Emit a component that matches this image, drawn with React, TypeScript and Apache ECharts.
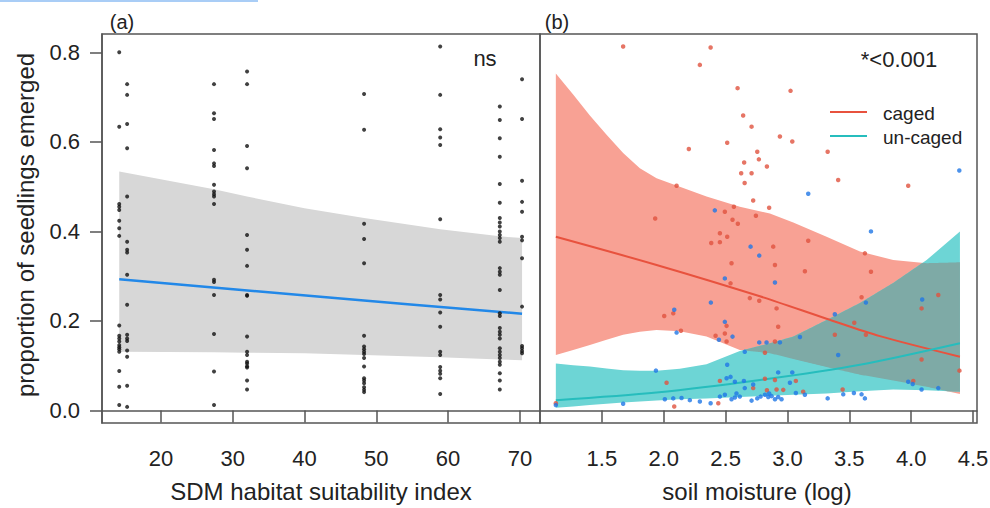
import React, { useEffect, useRef } from "react";
import * as echarts from "echarts";

// ---------- Panel (a): SDM habitat suitability ----------
const SITE_X = [14.2, 15.3, 27.4, 32.0, 48.3, 58.9, 67.2, 70.3];
const SITE_VALUES = [
  [0.800, 0.634, 0.461, 0.455, 0.448, 0.424, 0.407, 0.390, 0.190, 0.167, 0.161, 0.154, 0.146, 0.141, 0.137, 0.131, 0.088, 0.053, 0.012],
  [0.729, 0.705, 0.640, 0.586, 0.478, 0.377, 0.359, 0.353, 0.303, 0.236, 0.169, 0.161, 0.155, 0.134, 0.120, 0.055, 0.008],
  [0.729, 0.664, 0.651, 0.582, 0.552, 0.546, 0.504, 0.489, 0.483, 0.478, 0.461, 0.292, 0.287, 0.258, 0.171, 0.087, 0.012],
  [0.757, 0.729, 0.591, 0.541, 0.392, 0.359, 0.323, 0.258, 0.256, 0.165, 0.131, 0.124, 0.109, 0.105, 0.099, 0.096, 0.067, 0.047],
  [0.707, 0.627, 0.417, 0.383, 0.329, 0.167, 0.143, 0.137, 0.131, 0.126, 0.117, 0.098, 0.072, 0.067, 0.061, 0.052, 0.046, 0.041],
  [0.813, 0.705, 0.628, 0.610, 0.593, 0.427, 0.258, 0.248, 0.219, 0.187, 0.131, 0.124, 0.097, 0.089, 0.082, 0.072, 0.037],
  [0.679, 0.649, 0.608, 0.567, 0.506, 0.464, 0.430, 0.420, 0.411, 0.400, 0.392, 0.385, 0.377, 0.318, 0.310, 0.303, 0.269, 0.217, 0.211, 0.184, 0.176, 0.169, 0.161, 0.139, 0.131, 0.124, 0.117, 0.109, 0.102, 0.083, 0.067, 0.047],
  [0.740, 0.651, 0.513, 0.466, 0.444, 0.388, 0.380, 0.340, 0.232, 0.144, 0.139, 0.133, 0.128],
];
const FIT_A_X = [14.2, 42.2, 70.3];
const FIT_A_Y = [0.293, 0.254, 0.216];
const BAND_A_X = [14.2, 27.4, 32.0, 40.0, 48.3, 58.9, 67.2, 70.3];
const BAND_A_HI = [0.534, 0.494, 0.478, 0.452, 0.430, 0.405, 0.389, 0.385];
const BAND_A_LO = [0.131, 0.130, 0.129, 0.128, 0.124, 0.119, 0.114, 0.112];
const TICKS_A_X = [20, 30, 40, 50, 60, 70];
const TICKS_Y = [0, 0.2, 0.4, 0.6, 0.8];

// ---------- Panel (b): soil moisture ----------
const CAGED_X = [1.672, 2.292, 2.379, 2.597, 2.642, 2.710, 2.513, 2.203, 2.756, 2.769, 2.650, 2.834, 2.626, 2.710, 2.654, 2.104, 2.723, 2.852, 2.567, 2.494, 2.745, 1.931, 2.556, 2.599, 2.454, 2.513, 2.454, 2.384, 2.548, 2.540, 2.696, 2.772, 2.004, 2.077, 2.139, 2.508, 2.494, 2.419, 2.508, 2.818, 2.023, 2.454, 2.818, 2.723, 2.834, 2.085, 2.441, 1.128,
  3.025, 2.939, 3.039, 3.325, 3.410, 3.976, 3.168, 2.885, 2.899, 3.626, 3.675, 3.141, 3.599, 4.219, 4.084, 2.912, 2.925, 3.540, 3.634, 3.383, 2.899, 4.084, 4.390, 2.899, 3.068, 3.446, 4.017, 2.912, 3.127, 2.966];
const CAGED_Y = [0.813, 0.772, 0.811, 0.720, 0.659, 0.634, 0.598, 0.584, 0.578, 0.561, 0.554, 0.545, 0.530, 0.530, 0.508, 0.502, 0.469, 0.453, 0.455, 0.444, 0.435, 0.429, 0.426, 0.417, 0.396, 0.388, 0.376, 0.374, 0.329, 0.284, 0.251, 0.245, 0.211, 0.217, 0.178, 0.189, 0.172, 0.167, 0.154, 0.129, 0.062, 0.066, 0.071, 0.050, 0.045, 0.009, 0.016, 0.016,
  0.714, 0.612, 0.601, 0.578, 0.515, 0.502, 0.379, 0.366, 0.325, 0.351, 0.310, 0.311, 0.253, 0.258, 0.228, 0.228, 0.187, 0.196, 0.169, 0.169, 0.154, 0.114, 0.089, 0.068, 0.066, 0.047, 0.066, 0.047, 0.042, 0.046];
const UNCAGED_X = [2.413, 2.702, 2.772, 2.494, 2.381, 2.085, 2.104, 2.494, 2.556, 2.446, 2.772, 2.655, 2.513, 1.937, 2.508, 2.540, 2.575, 2.648, 2.723, 2.655, 2.588, 2.615, 2.009, 2.077, 2.144, 2.211, 2.292, 2.379, 2.454, 2.494, 2.548, 2.575, 2.710, 2.756, 2.783, 2.818, 2.852, 1.672, 1.128,
  4.389, 3.168, 3.675, 2.899, 4.089, 3.634, 3.383, 3.101, 2.939, 2.831, 3.410, 2.925, 3.039, 3.020, 3.976, 4.012, 4.084, 4.219, 3.325, 3.451, 3.537, 3.599, 3.626, 3.068, 3.141, 2.845, 2.872, 2.899, 2.925, 2.952];
const UNCAGED_Y = [0.447, 0.366, 0.346, 0.295, 0.241, 0.225, 0.174, 0.198, 0.165, 0.158, 0.152, 0.131, 0.102, 0.089, 0.072, 0.075, 0.064, 0.066, 0.058, 0.050, 0.038, 0.031, 0.025, 0.027, 0.028, 0.023, 0.020, 0.016, 0.031, 0.035, 0.025, 0.029, 0.022, 0.027, 0.031, 0.035, 0.038, 0.015, 0.012,
  0.536, 0.484, 0.400, 0.286, 0.248, 0.241, 0.215, 0.164, 0.152, 0.152, 0.124, 0.085, 0.085, 0.062, 0.064, 0.059, 0.047, 0.050, 0.027, 0.036, 0.039, 0.036, 0.027, 0.039, 0.035, 0.030, 0.032, 0.025, 0.030, 0.025];

const FIT_CAGED_X = [1.128, 1.942, 2.777, 3.316, 3.747, 4.394];
const FIT_CAGED_Y = [0.388, 0.325, 0.255, 0.205, 0.166, 0.120];
const FIT_UNCAGED_X = [1.128, 1.942, 2.777, 3.586, 4.394];
const FIT_UNCAGED_Y = [0.023, 0.040, 0.068, 0.102, 0.150];

const BAND_B_X = [1.128, 1.268, 1.403, 1.538, 1.672, 1.807, 1.942, 2.13, 2.346, 2.615, 2.858, 3.047, 3.316, 3.586, 3.855, 4.125, 4.394];
const CAGED_HI = [0.753, 0.706, 0.659, 0.616, 0.575, 0.541, 0.519, 0.500, 0.478, 0.455, 0.440, 0.420, 0.388, 0.355, 0.336, 0.329, 0.331];
const CAGED_LO = [0.124, 0.135, 0.146, 0.158, 0.169, 0.176, 0.180, 0.177, 0.165, 0.135, 0.128, 0.115, 0.097, 0.080, 0.067, 0.053, 0.037];
const UNCAGED_HI = [0.105, 0.101, 0.098, 0.094, 0.090, 0.089, 0.089, 0.093, 0.103, 0.133, 0.150, 0.165, 0.202, 0.240, 0.285, 0.336, 0.400];
const UNCAGED_LO = [0.006, 0.009, 0.012, 0.015, 0.018, 0.020, 0.022, 0.025, 0.027, 0.030, 0.033, 0.035, 0.038, 0.043, 0.047, 0.045, 0.042];
const TICKS_B_X = [1.5, 2.0, 2.5, 3.0, 3.5, 4.0, 4.5];

const FONT = "'Liberation Sans', Arial, Helvetica, sans-serif";
const TEXT = "#222";
const BOX = "#555";

type P = { x: number; lo: number; hi: number };

// region where both bands overlap (for the darker blended fill)
function overlapRuns(xs: number[], aLo: number[], aHi: number[], bLo: number[], bHi: number[], steps = 24): P[][] {
  const s: P[] = [];
  for (let i = 0; i < xs.length - 1; i++) {
    for (let k = 0; k < steps; k++) {
      const t = k / steps;
      const L = (a: number[]) => a[i] + (a[i + 1] - a[i]) * t;
      s.push({ x: L(xs), lo: Math.max(L(aLo), L(bLo)), hi: Math.min(L(aHi), L(bHi)) });
    }
  }
  const n = xs.length - 1;
  s.push({ x: xs[n], lo: Math.max(aLo[n], bLo[n]), hi: Math.min(aHi[n], bHi[n]) });
  const runs: P[][] = [];
  let cur: P[] | null = null;
  for (let j = 0; j < s.length; j++) {
    const d = s[j].hi - s[j].lo;
    if (j > 0) {
      const dp = s[j - 1].hi - s[j - 1].lo;
      if (dp > 0 !== d > 0) {
        const t = dp / (dp - d);
        const x = s[j - 1].x + (s[j].x - s[j - 1].x) * t;
        const y = s[j - 1].hi + (s[j].hi - s[j - 1].hi) * t;
        const p = { x, lo: y, hi: y };
        if (cur) {
          cur.push(p);
          runs.push(cur);
          cur = null;
        } else {
          cur = [p];
        }
      }
    }
    if (d > 0) {
      if (!cur) cur = [];
      cur.push(s[j]);
    }
  }
  if (cur) runs.push(cur);
  return runs;
}

function bandSeries(gi: number, xs: number[], lo: number[], hi: number[], color: string, z: number) {
  return {
    type: "custom",
    xAxisIndex: gi,
    yAxisIndex: gi,
    z,
    silent: true,
    data: [[xs[0], hi[0]]],
    renderItem: (_p: any, api: any) => {
      const pts: number[][] = [];
      for (let i = 0; i < xs.length; i++) pts.push(api.coord([xs[i], hi[i]]));
      for (let i = xs.length - 1; i >= 0; i--) pts.push(api.coord([xs[i], lo[i]]));
      return { type: "polygon", shape: { points: pts }, style: { fill: color } };
    },
  };
}

function makeAxisX(gi: number, min: number, max: number, ticks: number[], fmt: (v: number) => string) {
  return {
    type: "value",
    gridIndex: gi,
    min,
    max,
    axisLine: { show: true, lineStyle: { color: BOX, width: 1.5 } },
    axisTick: { show: true, inside: false, length: 12, customValues: ticks, lineStyle: { color: BOX, width: 1.5 } },
    axisLabel: { show: true, margin: 24, customValues: ticks, formatter: fmt, color: TEXT, fontSize: 22, fontFamily: FONT },
    splitLine: { show: false },
  };
}

export default function App() {
  const ref = useRef<HTMLDivElement>(null);
  useEffect(() => {
    if (!ref.current) return;
    const chart = echarts.init(ref.current, undefined, { renderer: "svg" });

    const pointsA: number[][] = [];
    SITE_X.forEach((x, i) => SITE_VALUES[i].forEach((v) => pointsA.push([x, v])));
    const caged = CAGED_X.map((x, i) => [x, CAGED_Y[i]]);
    const uncaged = UNCAGED_X.map((x, i) => [x, UNCAGED_Y[i]]);
    const runs = overlapRuns(BAND_B_X, CAGED_LO, CAGED_HI, UNCAGED_LO, UNCAGED_HI);

    const option: any = {
      animation: false,
      backgroundColor: "#fff",
      grid: [
        { left: 102, top: 34, width: 438, height: 389, show: true, borderColor: BOX, borderWidth: 1.5, backgroundColor: "transparent", outerBoundsMode: "none" },
        { left: 540, top: 34, width: 437, height: 389, show: true, borderColor: BOX, borderWidth: 1.5, backgroundColor: "transparent", outerBoundsMode: "none" },
      ],
      xAxis: [
        makeAxisX(0, 11.8, 72.8, TICKS_A_X, (v: number) => String(v)),
        makeAxisX(1, 1.0, 4.532, TICKS_B_X, (v: number) => v.toFixed(1)),
      ],
      yAxis: [
        {
          type: "value",
          gridIndex: 0,
          min: -0.028,
          max: 0.841,
          axisLine: { show: true, lineStyle: { color: BOX, width: 1.5 } },
          axisTick: { show: true, inside: false, length: 12, customValues: TICKS_Y, lineStyle: { color: BOX, width: 1.5 } },
          axisLabel: { show: true, margin: 22, customValues: TICKS_Y, formatter: (v: number) => v.toFixed(1), color: TEXT, fontSize: 22, fontFamily: FONT },
          splitLine: { show: false },
        },
        { type: "value", gridIndex: 1, min: -0.028, max: 0.841, show: false, splitLine: { show: false } },
      ],
      series: [
        bandSeries(0, BAND_A_X, BAND_A_LO, BAND_A_HI, "#d7d7d7", 1),
        {
          type: "line",
          xAxisIndex: 0,
          yAxisIndex: 0,
          z: 3,
          smooth: 0.3,
          symbol: "none",
          data: FIT_A_X.map((x, i) => [x, FIT_A_Y[i]]),
          lineStyle: { color: "#2288e8", width: 2.5 },
        },
        {
          type: "scatter",
          xAxisIndex: 0,
          yAxisIndex: 0,
          z: 4,
          symbolSize: 4,
          data: pointsA,
          itemStyle: { color: "#111" },
        },
        bandSeries(1, BAND_B_X, CAGED_LO, CAGED_HI, "#f8a194", 1),
        bandSeries(1, BAND_B_X, UNCAGED_LO, UNCAGED_HI, "#6dd5d5", 1),
        {
          type: "custom",
          xAxisIndex: 1,
          yAxisIndex: 1,
          z: 2,
          silent: true,
          data: runs.map((r) => [r[0].x, r[0].hi]),
          renderItem: (params: any, api: any) => {
            const run = runs[params.dataIndex];
            const pts: number[][] = [];
            for (let i = 0; i < run.length; i++) pts.push(api.coord([run[i].x, run[i].hi]));
            for (let i = run.length - 1; i >= 0; i--) pts.push(api.coord([run[i].x, run[i].lo]));
            return { type: "polygon", shape: { points: pts }, style: { fill: "#7eaaa6" } };
          },
        },
        {
          type: "line",
          xAxisIndex: 1,
          yAxisIndex: 1,
          z: 3,
          smooth: 0.3,
          symbol: "none",
          data: FIT_CAGED_X.map((x, i) => [x, FIT_CAGED_Y[i]]),
          lineStyle: { color: "#e8523e", width: 2 },
        },
        {
          type: "line",
          xAxisIndex: 1,
          yAxisIndex: 1,
          z: 3,
          smooth: 0.3,
          symbol: "none",
          data: FIT_UNCAGED_X.map((x, i) => [x, FIT_UNCAGED_Y[i]]),
          lineStyle: { color: "#26bdbd", width: 2 },
        },
        {
          type: "scatter",
          xAxisIndex: 1,
          yAxisIndex: 1,
          z: 4,
          symbolSize: 4.5,
          data: caged,
          itemStyle: { color: "#e0533f" },
        },
        {
          type: "scatter",
          xAxisIndex: 1,
          yAxisIndex: 1,
          z: 4,
          symbolSize: 4.5,
          data: uncaged,
          itemStyle: { color: "#1f77e6" },
        },
      ],
      graphic: [
        { type: "rect", shape: { x: 0, y: 0, width: 258, height: 2 }, style: { fill: "#a9cdf6" } },
        { type: "text", x: 122, y: 22, style: { text: "(a)", fontSize: 20, fontFamily: FONT, fill: TEXT, align: "center", verticalAlign: "middle" } },
        { type: "text", x: 557, y: 22, style: { text: "(b)", fontSize: 20, fontFamily: FONT, fill: TEXT, align: "center", verticalAlign: "middle" } },
        { type: "text", x: 485, y: 58, z: 10, style: { text: "ns", fontSize: 22, fontFamily: FONT, fill: TEXT, align: "center", verticalAlign: "middle" } },
        { type: "text", x: 899, y: 59, z: 10, style: { text: "*<0.001", fontSize: 22, fontFamily: FONT, fill: TEXT, align: "center", verticalAlign: "middle" } },
        { type: "line", z: 10, shape: { x1: 830, y1: 112, x2: 867, y2: 112 }, style: { stroke: "#e8523e", lineWidth: 2 } },
        { type: "line", z: 10, shape: { x1: 830, y1: 136, x2: 867, y2: 136 }, style: { stroke: "#26bdbd", lineWidth: 2 } },
        { type: "text", x: 883, y: 113, z: 10, style: { text: "caged", fontSize: 19, fontFamily: FONT, fill: TEXT, align: "left", verticalAlign: "middle" } },
        { type: "text", x: 883, y: 137, z: 10, style: { text: "un-caged", fontSize: 19, fontFamily: FONT, fill: TEXT, align: "left", verticalAlign: "middle" } },
        { type: "text", x: 321, y: 491, style: { text: "SDM habitat suitability index", fontSize: 24, fontFamily: FONT, fill: TEXT, align: "center", verticalAlign: "middle" } },
        { type: "text", x: 757, y: 491, style: { text: "soil moisture (log)", fontSize: 24, fontFamily: FONT, fill: TEXT, align: "center", verticalAlign: "middle" } },
        { type: "text", x: 25, y: 225, rotation: Math.PI / 2, style: { text: "proportion of seedlings emerged", fontSize: 24, fontFamily: FONT, fill: TEXT, align: "center", verticalAlign: "middle" } },
      ],
    };
    chart.setOption(option);
    return () => chart.dispose();
  }, []);
  return <div ref={ref} style={{ position: "absolute", left: 0, top: 0, width: 990, height: 508 }} />;
}
